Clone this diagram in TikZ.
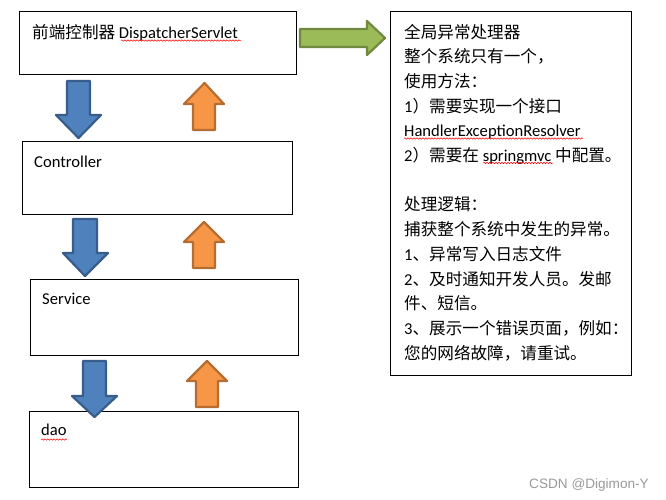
\documentclass[tikz,border=0pt]{standalone}
\usepackage{fontspec}
\setmainfont{Carlito}
\newfontfamily\cjk{Noto Sans CJK SC}
\newfontfamily\wmfont{Liberation Sans}
\usetikzlibrary{decorations.pathmorphing}
\definecolor{bluefill}{HTML}{4F81BD}
\definecolor{blueline}{HTML}{385D8A}
\definecolor{orangefill}{HTML}{F79646}
\definecolor{orangeline}{HTML}{B66D31}
\definecolor{greenfill}{HTML}{9BBB59}
\definecolor{greenline}{HTML}{71893F}
\definecolor{wmgray}{HTML}{9A9A9A}
\begin{document}
\begin{tikzpicture}[x=1pt,y=-1pt,
  box/.style={draw=black,line width=0.9pt,fill=white,inner sep=0pt,anchor=north west},
  txt/.style={inner sep=0pt,anchor=base west,font=\fontsize{16.6}{20}\selectfont},
  downarrow/.style={fill=bluefill,draw=blueline,line width=2.2pt,line join=round},
  uparrow/.style={fill=orangefill,draw=orangeline,line width=2.2pt,line join=round},
  rightarrow/.style={fill=greenfill,draw=greenline,line width=2.2pt,line join=round},
  squiggle/.style={draw=red,line width=0.5pt,decorate,decoration={snake,amplitude=0.7pt,segment length=3pt}}]
\useasboundingbox[fill=white] (0,0) rectangle (666,499);

% boxes
\node[box,minimum width=277pt,minimum height=63pt] (dispatcher) at (19,11) {};
\node[box,minimum width=270pt,minimum height=73pt] (controller) at (22,141) {};
\node[box,minimum width=268pt,minimum height=76pt] (service) at (30,279) {};
\node[box,minimum width=269pt,minimum height=76pt] (dao) at (29,411) {};
\node[box,minimum width=241pt,minimum height=364pt] (handler) at (390,11) {};

% left labels
\node[txt] (tdisp) at (32,38) {{\cjk 前端控制器} DispatcherServlet};
\node[txt] (tctrl) at (34,167) {Controller};
\node[txt] (tserv) at (42,304) {Service};
\node[txt] (tdao) at (41,435) {dao};

% right text lines
\node[txt] (r1) at (404,38) {\cjk 全局异常处理器};
\node[txt] (r2) at (404,62.7) {\cjk 整个系统只有一个，};
\node[txt] (r3) at (404,87.4) {\cjk 使用方法：};
\node[txt] (r4) at (404,112.1) {1{\cjk ）需要实现一个接口}};
\node[txt] (r5) at (404,136.8) {HandlerExceptionResolver};
\node[txt] (r6) at (404,161.5) {2{\cjk ）需要在} springmvc {\cjk 中配置。}};
\node[txt] (r7) at (404,210.9) {\cjk 处理逻辑：};
\node[txt] (r8) at (404,235.6) {\cjk 捕获整个系统中发生的异常。};
\node[txt] (r9) at (404,260.3) {1{\cjk 、异常写入日志文件}};
\node[txt] (r10) at (404,285) {2{\cjk 、及时通知开发人员。发邮}};
\node[txt] (r11) at (404,309.7) {\cjk 件、短信。};
\node[txt] (r12) at (404,334.4) {3{\cjk 、展示一个错误页面，例如：}};
\node[txt] (r13) at (404,359.1) {\cjk 您的网络故障，请重试。};

% spell-check underlines
\draw[squiggle] (121,40.5) -- (241,40.5);
\draw[squiggle] (404,138.5) -- (583,138.5);
\draw[squiggle] (483,163) -- (553,163);
\draw[squiggle] (41,439.5) -- (67,439.5);

% down arrows
\draw[downarrow] (67,81) -- (90,81) -- (90,115) -- (101,115) -- (78.5,138) -- (56,115) -- (67,115) -- cycle;
\draw[downarrow] (73,219) -- (97,219) -- (97,253) -- (108,253) -- (85,276) -- (63,253) -- (73,253) -- cycle;
\draw[downarrow] (83,361) -- (106,361) -- (106,396) -- (117,396) -- (94.5,417) -- (72,396) -- (83,396) -- cycle;

% up arrows
\draw[uparrow] (193,130) -- (215,130) -- (215,104) -- (224,104) -- (204.5,83) -- (184,104) -- (193,104) -- cycle;
\draw[uparrow] (193,268) -- (215,268) -- (215,242) -- (224,242) -- (204,222) -- (184,242) -- (193,242) -- cycle;
\draw[uparrow] (196,407) -- (218,407) -- (218,381) -- (227,381) -- (207,361) -- (187,381) -- (196,381) -- cycle;

% right arrow
\draw[rightarrow] (300,29) -- (367,29) -- (367,21) -- (385,38) -- (367,55) -- (367,47) -- (300,47) -- cycle;

% watermark
\node[inner sep=0pt,anchor=base west,text=wmgray,font=\wmfont\fontsize{13.6}{16}\selectfont] (wm) at (529,488) {CSDN @Digimon-Y};
\end{tikzpicture}
\end{document}
